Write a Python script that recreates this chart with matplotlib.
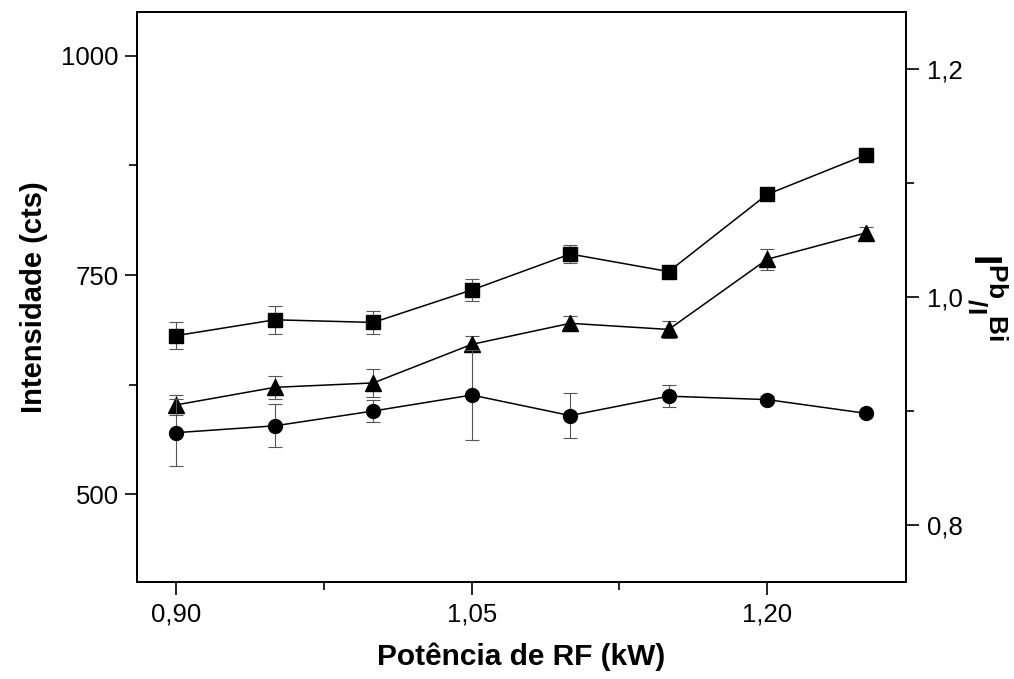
import matplotlib
matplotlib.use("Agg")
import matplotlib.pyplot as plt
from matplotlib.ticker import FixedLocator, FuncFormatter

plt.rcParams['font.family'] = ['Liberation Sans', 'DejaVu Sans']
plt.rcParams['mathtext.fontset'] = 'custom'
plt.rcParams['mathtext.rm'] = 'Liberation Sans'
plt.rcParams['mathtext.bf'] = 'Liberation Sans:bold'

# Data
potencia = [0.90, 0.95, 1.00, 1.05, 1.10, 1.15, 1.20, 1.25]
int_quadrado = [681, 699, 696, 733, 774, 754, 842, 887]
err_quadrado = [15, 16, 13, 12, 10, 5, 2, 2]
int_triangulo = [602, 622, 627, 671, 695, 688, 768, 798]
err_triangulo = [11, 13, 16, 9, 8, 10, 12, 7]
razao_circulo = [0.881, 0.887, 0.900, 0.914, 0.896, 0.913, 0.910, 0.898]
err_circulo = [0.0295, 0.019, 0.0097, 0.0395, 0.0195, 0.0096, 0.003, 0.002]

xticks = [0.90, 1.05, 1.20]
xminor = [0.975, 1.125]
yticks_left = [500, 750, 1000]
yminor_left = [625, 875]
yticks_right = [0.8, 1.0, 1.2]
yminor_right = [0.9, 1.1]

fig = plt.figure(figsize=(10.14, 6.79), dpi=100)
ax = fig.add_axes([137/1014, 1-582/679, (906-137)/1014, (582-12)/679])
ax2 = ax.twinx()

err_kw = dict(ecolor='#555555', elinewidth=0.8, capsize=5, capthick=0.8)
line_kw = dict(color='black', linewidth=1.1)

ax.errorbar(potencia, int_quadrado, yerr=err_quadrado, marker='s', markersize=9.5,
            markerfacecolor='black', markeredgecolor='black', **line_kw, **err_kw)
ax.errorbar(potencia, int_triangulo, yerr=err_triangulo, marker='^', markersize=11,
            markerfacecolor='black', markeredgecolor='black', **line_kw, **err_kw)
ax2.errorbar(potencia, razao_circulo, yerr=err_circulo, marker='o', markersize=10,
             markerfacecolor='black', markeredgecolor='black', **line_kw, **err_kw)

ax.set_xlim(0.88, 1.2705)
ax.set_ylim(400, 1050)
ax2.set_ylim(0.75, 1.25)

ax.xaxis.set_major_locator(FixedLocator(xticks))
ax.xaxis.set_minor_locator(FixedLocator(xminor))
ax.yaxis.set_major_locator(FixedLocator(yticks_left))
ax.yaxis.set_minor_locator(FixedLocator(yminor_left))
ax2.yaxis.set_major_locator(FixedLocator(yticks_right))
ax2.yaxis.set_minor_locator(FixedLocator(yminor_right))

ax.xaxis.set_major_formatter(FuncFormatter(lambda v, p: f"{v:.2f}".replace('.', ',')))
ax.yaxis.set_major_formatter(FuncFormatter(lambda v, p: f"{v:.0f}"))
ax2.yaxis.set_major_formatter(FuncFormatter(lambda v, p: f"{v:.1f}".replace('.', ',')))

for a in (ax, ax2):
    for s in a.spines.values():
        s.set_linewidth(1.3)
ax.tick_params(axis='both', which='major', direction='out', length=9, width=1.2,
               labelsize=18.5, top=False, right=False)
ax.tick_params(axis='both', which='minor', direction='out', length=5.5, width=1.2,
               top=False, right=False)
ax.tick_params(axis='y', pad=4)
ax.tick_params(axis='x', pad=6)
ax2.tick_params(axis='y', which='major', direction='out', length=9, width=1.2,
                labelsize=18.5, pad=6)
ax2.tick_params(axis='y', which='minor', direction='out', length=5.5, width=1.2)

ax.set_xlabel('Potência de RF (kW)', fontsize=21.5, fontweight='bold', labelpad=11)
ax.set_ylabel('Intensidade (cts)', fontsize=21, fontweight='bold', labelpad=10)
ax2.set_ylabel(r'$\mathbf{I}^{\mathbf{Pb}}{}_{\mathbf{/I}}{}^{\mathbf{Bi}}$',
               fontsize=27, rotation=270, labelpad=34)

fig.savefig('out.png', dpi=100)
